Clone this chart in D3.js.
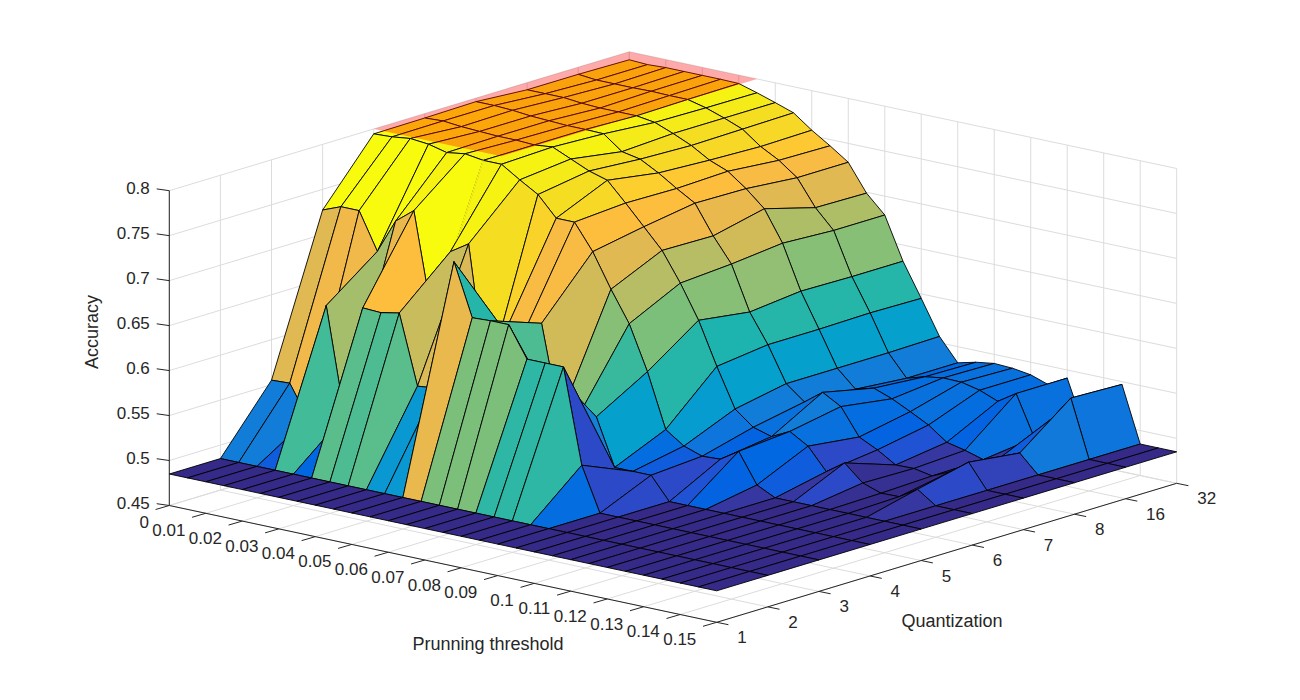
<!DOCTYPE html>
<html>
<head>
<meta charset="utf-8">
<script src="https://d3js.org/d3.v7.min.js"></script>
<style>
	html, body { margin: 0; background: #fff; }
	svg { display: block; }
	text { font-family: "Liberation Sans", Arial, sans-serif; fill: #262626; }
</style>
</head>
<body>
<div id="chart"></div>
<script>

var thresholdTicks = [0, 0.01, 0.02, 0.03, 0.04, 0.05, 0.06, 0.07, 0.08, 0.09, 0.1, 0.11, 0.12, 0.13, 0.14, 0.15];
var quantLabels = ["1", "2", "3", "4", "5", "6", "7", "8", "16", "32"];
var accuracyTicks = [0.45, 0.5, 0.55, 0.6, 0.65, 0.7, 0.75, 0.8];

// one row per quantization level, 31 thresholds from 0 to 0.15
var acc1  = [.485,.485,.485,.485,.485,.485,.485,.485,.485,.485,.485,.485,.485,.485,.485,.485,.485,.485,.485,.485,.485,.485,.485,.485,.485,.485,.485,.485,.485,.485,.485];
var acc2  = [.485,.485,.485,.485,.485,.485,.485,.485,.485,.485,.485,.485,.485,.485,.485,.485,.485,.485,.485,.485,.485,.485,.485,.485,.485,.485,.485,.485,.485,.485,.485];
var acc3  = [.555,.556,.521,.651,.533,.657,.656,.660,.583,.585,.730,.672,.673,.673,.639,.639,.639,.534,.485,.485,.485,.485,.485,.485,.485,.485,.485,.485,.485,.485,.485];
var acc4  = [.727,.735,.735,.694,.732,.748,.635,.711,.724,.575,.635,.637,.653,.552,.558,.562,.510,.510,.510,.485,.485,.485,.485,.485,.485,.485,.485,.485,.485,.485,.485];
var acc5  = [.7945,.7955,.798,.796,.791,.794,.791,.791,.778,.766,.744,.744,.7155,.678,.644,.595,.535,.521,.514,.515,.528,.495,.485,.485,.485,.485,.485,.485,.485,.485,.485];
var acc6  = [.795,.796,.794,.793,.792,.792,.791,.793,.784,.775,.769,.748,.726,.704,.672,.635,.588,.545,.529,.523,.533,.521,.497,.511,.493,.486,.4865,.499,.485,.485,.485];
var acc7  = [.796,.796,.795,.793,.792,.791,.791,.7905,.775,.771,.760,.747,.735,.703,.676,.627,.595,.556,.540,.555,.5435,.514,.504,.4916,.492,.488,.497,.512,.485,.485,.485];
var acc8  = [.792,.792,.792,.790,.789,.789,.789,.786,.778,.769,.757,.749,.734,.716,.682,.633,.595,.556,.537,.5425,.535,.525,.5145,.4996,.495,.489,.4966,.505,.485,.485,.485];
var acc16 = [.792,.790,.790,.790,.7905,.790,.790,.785,.778,.770,.755,.744,.729,.700,.679,.632,.596,.556,.532,.538,.541,.5406,.536,.528,.541,.496,.5225,.549,.485,.485,.485];
var acc32 = [.791,.790,.791,.791,.791,.791,.7906,.7846,.778,.771,.756,.743,.729,.699,.679,.632,.595,.557,.532,.537,.540,.539,.536,.529,.541,.486,.490,.547,.485,.485,.485];
var accuracyRows = [acc1, acc2, acc3, acc4, acc5, acc6, acc7, acc8, acc16, acc32];

// translucent marker plane over the plateau
var planeThresholds = [0, 0.035];
var planeQuants = ["5", "32"];
var planeLevel = 0.8;

// matlab parula, 64 steps
var parula = [
	[.2081,.1663,.5292],[.2116,.1898,.5777],[.2123,.2138,.6270],[.2081,.2386,.6771],[.1959,.2645,.7279],[.1707,.2919,.7792],[.1253,.3242,.8303],[.0591,.3598,.8683],
	[.0117,.3875,.8820],[.0060,.4086,.8828],[.0165,.4266,.8786],[.0329,.4430,.8720],[.0498,.4586,.8641],[.0629,.4737,.8554],[.0723,.4887,.8467],[.0779,.5040,.8384],
	[.0793,.5200,.8312],[.0749,.5375,.8263],[.0641,.5570,.8240],[.0488,.5772,.8228],[.0343,.5966,.8199],[.0265,.6137,.8135],[.0239,.6287,.8038],[.0231,.6418,.7913],
	[.0228,.6535,.7768],[.0267,.6642,.7607],[.0384,.6743,.7436],[.0590,.6838,.7254],[.0843,.6928,.7062],[.1133,.7015,.6859],[.1453,.7098,.6646],[.1801,.7177,.6424],
	[.2178,.7250,.6193],[.2586,.7317,.5954],[.3022,.7376,.5712],[.3482,.7424,.5473],[.3953,.7459,.5244],[.4420,.7481,.5033],[.4871,.7491,.4840],[.5300,.7491,.4661],
	[.5709,.7485,.4494],[.6099,.7473,.4337],[.6473,.7456,.4188],[.6834,.7435,.4044],[.7184,.7411,.3905],[.7525,.7384,.3768],[.7858,.7356,.3633],[.8185,.7327,.3498],
	[.8507,.7299,.3360],[.8824,.7274,.3217],[.9139,.7258,.3063],[.9450,.7261,.2886],[.9739,.7314,.2666],[.9938,.7455,.2403],[.9990,.7653,.2164],[.9955,.7861,.1967],
	[.9880,.8066,.1794],[.9789,.8271,.1633],[.9697,.8481,.1475],[.9626,.8705,.1309],[.9589,.8949,.1132],[.9598,.9218,.0948],[.9661,.9514,.0755],[.9763,.9831,.0538]
].map(function(c) { return d3.rgb(c[0] * 255, c[1] * 255, c[2] * 255).formatHex(); });

var svg = d3.select("#chart").append("svg").attr("width", 1300).attr("height", 700);

// axes box
var originX = 169.3, originY = 505.5;
var thresholdVec = [547.4, 116.8], quantVec = [460, -139];

var tScale = d3.scaleLinear().domain([0, 0.15]).range([0, 1]);
var qScale = d3.scalePoint().domain(quantLabels).range([0, 1]);
var zScale = d3.scaleLinear().domain([0.45, 0.8]).range([0, 314.8]);

function project(t, q, z) {
	var a = tScale(t), b = qScale(q), h = zScale(z);
	return [originX + a * thresholdVec[0] + b * quantVec[0],
		originY + a * thresholdVec[1] + b * quantVec[1] - h];
}
function line(g, p0, p1, color, width) {
	return g.append("line").attr("x1", p0[0]).attr("y1", p0[1]).attr("x2", p1[0]).attr("y2", p1[1])
		.attr("stroke", color).attr("stroke-width", width);
}

var qFirst = quantLabels[0], qLast = quantLabels[quantLabels.length - 1];
var tMax = 0.15, zMin = 0.45, zMax = 0.8;

// grid on floor and the two back walls
var grid = svg.append("g");
var gridColor = "#dcdcdc";
thresholdTicks.forEach(function(t) {
	line(grid, project(t, qFirst, zMin), project(t, qLast, zMin), gridColor, 1);
	line(grid, project(t, qLast, zMin), project(t, qLast, zMax), gridColor, 1);
});
quantLabels.forEach(function(q) {
	line(grid, project(0, q, zMin), project(tMax, q, zMin), gridColor, 1);
	line(grid, project(0, q, zMin), project(0, q, zMax), gridColor, 1);
});
accuracyTicks.forEach(function(z) {
	line(grid, project(0, qFirst, z), project(0, qLast, z), gridColor, 1);
	line(grid, project(0, qLast, z), project(tMax, qLast, z), gridColor, 1);
});

// axis lines, ticks, labels
var axes = svg.append("g");
var axisColor = "#262626";
line(axes, project(0, qFirst, zMin), project(0, qFirst, zMax), axisColor, 1);
line(axes, project(0, qFirst, zMin), project(tMax, qFirst, zMin), axisColor, 1);
line(axes, project(tMax, qFirst, zMin), project(tMax, qLast, zMin), axisColor, 1);

var fontSize = 17, titleSize = 18;
accuracyTicks.forEach(function(z) {
	var p = project(0, qFirst, z);
	line(axes, p, [p[0] - 12.6, p[1] - 1.8], axisColor, 1);
	axes.append("text").attr("x", p[0] - 19.5).attr("y", p[1] + 3.5)
		.attr("text-anchor", "end").attr("font-size", fontSize).text(z);
});
thresholdTicks.forEach(function(t) {
	var p = project(t, qFirst, zMin);
	line(axes, p, [p[0] - 13.7, p[1] + 4], axisColor, 1);
	axes.append("text").attr("x", p[0] - 20.4).attr("y", p[1] + 22.8)
		.attr("text-anchor", "end").attr("font-size", fontSize).text(t);
});
quantLabels.forEach(function(q) {
	var p = project(tMax, q, zMin);
	line(axes, p, [p[0] + 11.7, p[1] + 2.4], axisColor, 1);
	axes.append("text").attr("x", p[0] + 20.5).attr("y", p[1] + 21)
		.attr("text-anchor", "start").attr("font-size", fontSize).text(q);
});
axes.append("text").attr("transform", "translate(98,332) rotate(-90)")
	.attr("text-anchor", "middle").attr("font-size", titleSize).text("Accuracy");
axes.append("text").attr("x", 488).attr("y", 650)
	.attr("text-anchor", "middle").attr("font-size", titleSize).text("Prunning threshold");
axes.append("text").attr("x", 952).attr("y", 627)
	.attr("text-anchor", "middle").attr("font-size", titleSize).text("Quantization");

// surface: back to front, each face takes its colour from one corner like surf does
var thresholds = d3.range(31).map(function(i) { return i * 0.005; });
var allValues = d3.merge(accuracyRows);
var color = d3.scaleQuantize().domain(d3.extent(allValues)).range(parula);

var faces = [];
for (var j = quantLabels.length - 2; j >= 0; j--) {
	for (var i = 0; i < thresholds.length - 1; i++) {
		faces.push({i: i, j: j});
	}
}
var surface = svg.append("g");
surface.selectAll("path")
	.data(faces)
	.enter().append("path")
	.attr("d", function(d) {
		var i = d.i, j = d.j;
		return "M" + [
			project(thresholds[i], quantLabels[j], accuracyRows[j][i]),
			project(thresholds[i + 1], quantLabels[j], accuracyRows[j][i + 1]),
			project(thresholds[i + 1], quantLabels[j + 1], accuracyRows[j + 1][i + 1]),
			project(thresholds[i], quantLabels[j + 1], accuracyRows[j + 1][i])
		].join("L") + "Z";
	})
	.attr("fill", function(d) { return color(accuracyRows[d.j + 1][d.i]); })
	.attr("stroke", "#000")
	.attr("stroke-width", 0.9)
	.attr("stroke-linejoin", "round");

// the edge at threshold 0.03 on the plateau shoulder does not show in the picture, paint it out
surface.selectAll("path").filter(function(d) { return d.i === 6 && d.j === 3; }).each(function(d) {
	var edge = line(surface, project(thresholds[d.i], quantLabels[d.j], accuracyRows[d.j][d.i]),
		project(thresholds[d.i], quantLabels[d.j + 1], accuracyRows[d.j + 1][d.i]),
		color(accuracyRows[d.j + 1][d.i]), 1.6);
	this.parentNode.insertBefore(edge.node(), this.nextSibling);
});

// marker plane
svg.append("path")
	.attr("d", "M" + [
		project(planeThresholds[0], planeQuants[0], planeLevel),
		project(planeThresholds[1], planeQuants[0], planeLevel),
		project(planeThresholds[1], planeQuants[1], planeLevel),
		project(planeThresholds[0], planeQuants[1], planeLevel)
	].join("L") + "Z")
	.attr("fill", "#ff0000")
	.attr("fill-opacity", 1 / 3);

</script>
</body>
</html>
